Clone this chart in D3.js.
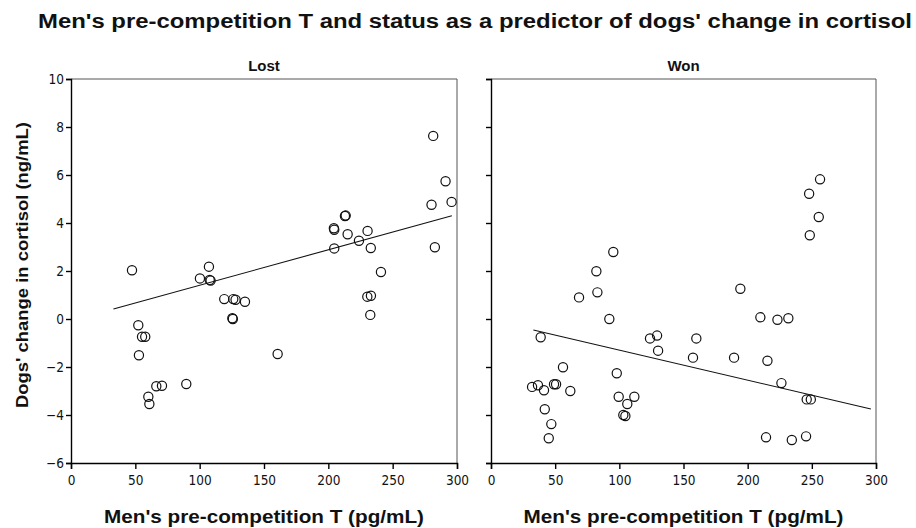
<!DOCTYPE html>
<html><head><meta charset="utf-8">
<script src="https://cdn.jsdelivr.net/npm/d3@7"></script>
<style>
body{margin:0;background:#fff;}
svg{display:block;}
.bold{font-family:"Liberation Sans",Arial,sans-serif;font-weight:bold;fill:#111;}
</style></head>
<body>
<svg id="chart" width="916" height="528"></svg>
<script>
// ---- data ----
const title = "Men's pre-competition T and status as a predictor of dogs' change in cortisol";
const yLabel = "Dogs' change in cortisol (ng/mL)";
const xLabel = "Men's pre-competition T  (pg/mL)";
const panelNames = ["Lost", "Won"];
const xTicks = [0, 50, 100, 150, 200, 250, 300];
const yTicks = [-6, -4, -2, 0, 2, 4, 6, 8, 10];

const lostT =    [281.5,291.1,280.2,295.8,212.9,213.5,204.3,204.6,215.0,230.5,223.8,233.0,282.8,204.6,47.4,107.2,100.2,107.8,108.5,119.1,126.1,127.9,135.2,125.4,125.8,52.3,55.2,57.7,52.8,160.6,60.1,60.9,66.3,70.7,89.6,240.9,230.3,233.1,232.6];
const lostCort = [7.63,5.74,4.76,4.88,4.29,4.31,3.78,3.72,3.53,3.67,3.26,2.96,2.99,2.94,2.03,2.18,1.69,1.63,1.60,0.83,0.83,0.80,0.72,0.03,0.00,-0.26,-0.74,-0.74,-1.51,-1.46,-3.24,-3.54,-2.80,-2.78,-2.71,1.96,0.93,0.97,0.17];

const wonT =    [256.4,247.9,255.4,248.4,95.3,82.1,82.9,68.6,194.3,92.2,209.9,223.2,231.7,38.7,123.9,129.4,160.0,130.2,157.4,189.4,215.4,56.1,98.0,226.3,32.0,36.6,41.3,49.1,50.7,61.8,99.5,111.7,106.2,103.1,104.7,246.0,249.2,41.9,47.0,45.0,214.3,234.4,245.5];
const wonCort = [5.82,5.22,4.25,3.49,2.79,1.99,1.11,0.90,1.26,0.00,0.07,-0.03,0.03,-0.76,-0.81,-0.69,-0.81,-1.32,-1.61,-1.61,-1.74,-2.01,-2.26,-2.67,-2.83,-2.76,-2.97,-2.72,-2.72,-3.00,-3.24,-3.24,-3.54,-4.00,-4.04,-3.35,-3.35,-3.76,-4.38,-4.97,-4.93,-5.04,-4.89];

// fit-line end points (x range, y at ends)
const fitX = [33, 296];
const lostFitY = [0.42, 4.30];
const wonFitY = [-0.46, -3.75];

// ---- drawing ----
const svg = d3.select("#chart");
const yTop = 79, yBot = 463;
const tickFont = "'Liberation Sans Narrow','Arial Narrow','DejaVu Sans Condensed',sans-serif";
const panels = [
  {name: panelNames[0], x0: 71, x1: 457, t: lostT, c: lostCort, fy: lostFitY, labels: true},
  {name: panelNames[1], x0: 491, x1: 876, t: wonT, c: wonCort, fy: wonFitY, labels: false}
];
const y = d3.scaleLinear().domain([-6, 10]).range([yBot, yTop]);

svg.append("text").attr("class","bold").attr("x", 38).attr("y", 28)
  .attr("font-size", 20).attr("textLength", 874).attr("lengthAdjust","spacingAndGlyphs").text(title);

svg.append("text").attr("class","bold").attr("font-size", 17)
  .attr("transform", "translate(28,265) rotate(-90)").attr("text-anchor","middle")
  .attr("textLength", 286).attr("lengthAdjust","spacingAndGlyphs").text(yLabel);

panels.forEach(p => {
  const x = d3.scaleLinear().domain([0, 300]).range([p.x0, p.x1]);
  const g = svg.append("g");
  g.append("line").attr("x1", p.x0).attr("x2", p.x1).attr("y1", yTop).attr("y2", yTop).attr("stroke", "#555").attr("stroke-width", 1);
  g.append("line").attr("x1", p.x1).attr("x2", p.x1).attr("y1", yTop).attr("y2", yBot).attr("stroke", "#555").attr("stroke-width", 1);

  const xAxis = g.append("g").attr("transform", `translate(0,${yBot})`)
    .call(d3.axisBottom(x).tickValues(xTicks).tickSize(6).tickPadding(6).tickFormat(d3.format("d")));
  const yAxis = g.append("g").attr("transform", `translate(${p.x0},0)`)
    .call(d3.axisLeft(y).tickValues(yTicks).tickSize(5).tickPadding(2).tickFormat(p.labels ? d3.format("d") : () => ""));
  [xAxis, yAxis].forEach(a => {
    a.attr("font-size", 13.5).attr("font-family", tickFont);
    a.selectAll(".tick text").attr("fill", "#111");
    a.select(".domain").attr("stroke", "#000").attr("stroke-width", 1.4);
    a.selectAll(".tick line").attr("stroke", "#000").attr("stroke-width", 1.4);
  });

  g.append("text").attr("class","bold").attr("font-size", 15).attr("text-anchor","middle")
    .attr("x", (p.x0 + p.x1) / 2).attr("y", 71).text(p.name);

  g.append("text").attr("class","bold").attr("font-size", 18).attr("text-anchor","middle")
    .attr("x", (p.x0 + p.x1) / 2).attr("y", 523)
    .attr("textLength", 320).attr("lengthAdjust","spacingAndGlyphs").text(xLabel);

  g.append("line")
    .attr("x1", x(fitX[0])).attr("y1", y(p.fy[0]))
    .attr("x2", x(fitX[1])).attr("y2", y(p.fy[1]))
    .attr("stroke", "#111").attr("stroke-width", 1.1);

  g.selectAll("circle.pt").data(p.t.map((t, i) => [t, p.c[i]])).enter()
    .append("circle").attr("class", "pt")
    .attr("cx", d => x(d[0])).attr("cy", d => y(d[1])).attr("r", 4.6)
    .attr("fill", "none").attr("stroke", "#111").attr("stroke-width", 1.2);
});
</script>
</body></html>
